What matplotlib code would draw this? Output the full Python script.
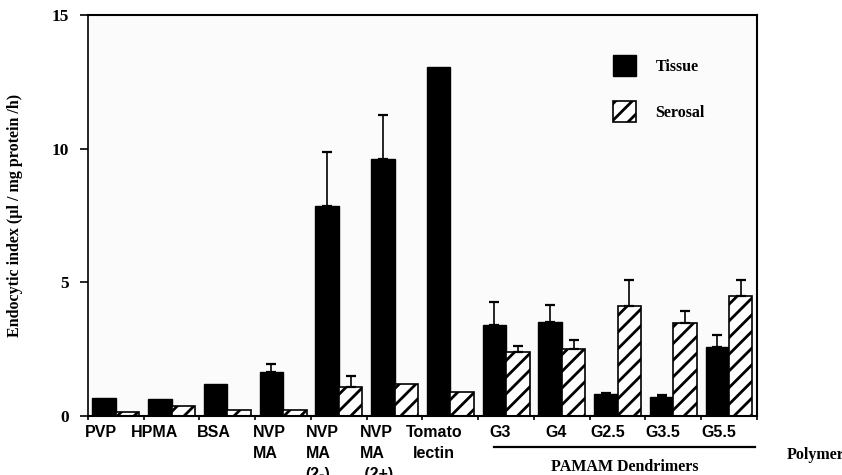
## Endocytic index of polymers, tissue vs serosal ##

import numpy as np
import matplotlib
matplotlib.use('Agg')
import matplotlib.pyplot as plt
from matplotlib.transforms import blended_transform_factory


# values
categories = ['PVP', 'HPMA', 'BSA', 'NVP\nMA', 'NVP\nMA\n(2-)', 'NVP\nMA\n (2+)',
              'Tomato\nlectin', 'G3', 'G4', 'G2.5', 'G3.5', 'G5.5']
tissue = [0.67, 0.62, 1.19, 1.65, 7.87, 9.64, 13.07, 3.42, 3.53, 0.82, 0.72, 2.57]
tissue_err = [0, 0, 0, 0.31, 2.01, 1.62, 0, 0.84, 0.62, 0.06, 0.05, 0.46]
serosal = [0.16, 0.39, 0.21, 0.21, 1.10, 1.19, 0.90, 2.41, 2.51, 4.13, 3.47, 4.48]
serosal_err = [0, 0, 0, 0, 0.41, 0, 0, 0.22, 0.34, 0.98, 0.47, 0.63]

# small shift of each tick label (in group widths), labels are not centred in the original
label_shift = [-0.27, -0.30, -0.25, -0.25, -0.30, -0.32, -0.29, -0.11, -0.10, -0.18, -0.18, -0.18]

serif = 'Liberation Serif'
sans = 'Liberation Sans'
plt.rcParams['hatch.linewidth'] = 2.0

n = len(categories)
x = np.arange(n) + 0.5
w = 0.42

fig = plt.figure(figsize=(8.42, 4.75), dpi=100)
ax = fig.add_axes([0.1045, 0.1242, 0.7945, 0.8432])
ax.set_facecolor('#fbfbfb')

ax.bar(x - w/2, tissue, w, color='black', edgecolor='black', linewidth=1, label='Tissue')
ax.bar(x + w/2, serosal, w, color='white', edgecolor='black', linewidth=1.2,
       hatch='//', label='Serosal')

# only upper error bars, only where there is one
ti = [i for i in range(n) if tissue_err[i] > 0]
si = [i for i in range(n) if serosal_err[i] > 0]
ax.errorbar(x[ti] - w/2, np.array(tissue)[ti], yerr=[np.zeros(len(ti)), np.array(tissue_err)[ti]],
            fmt='none', ecolor='black', elinewidth=1.2, capsize=3.3, capthick=1.6)
ax.errorbar(x[si] + w/2, np.array(serosal)[si], yerr=[np.zeros(len(si)), np.array(serosal_err)[si]],
            fmt='none', ecolor='black', elinewidth=1.2, capsize=3.3, capthick=1.6)

ax.set_xlim(0, n)
ax.set_ylim(0, 15)

ax.set_yticks([0, 5, 10, 15])
ax.set_yticklabels(['0', '5', '10', '15'], fontfamily=serif, fontweight='bold', fontsize=12.5)
ax.tick_params(axis='y', direction='out', length=6, width=1.2, pad=8)

ax.set_xticks(np.arange(n + 1))
ax.set_xticklabels([])
ax.tick_params(axis='x', which='major', direction='out', length=3, width=1.2)
ax.set_xticks(x + np.array(label_shift), minor=True)
ax.set_xticklabels(categories, minor=True, fontfamily=sans, fontweight='bold', fontsize=11.5,
                   linespacing=1.5, multialignment='left')
ax.tick_params(axis='x', which='minor', length=0, pad=6.5)
for lab in ax.get_xticklabels(minor=True):
    if lab.get_text().startswith('Tomato'):
        lab.set_multialignment('center')

ax.spines['left'].set_linewidth(1.2)
ax.spines['bottom'].set_linewidth(1.5)
ax.spines['top'].set_linewidth(1.5)
ax.spines['right'].set_linewidth(1.5)

ax.set_ylabel('Endocytic index (\u00b5l / mg protein /h)', fontfamily=serif,
              fontweight='bold', fontsize=11.5)
ax.yaxis.set_label_coords(-0.097, 0.5)

ax.legend(loc='upper left', bbox_to_anchor=(0.785, 0.901), frameon=False,
          borderpad=0, borderaxespad=0, handlelength=1.45, handleheight=1.6,
          handletextpad=1.2, labelspacing=1.6,
          prop={'family': serif, 'weight': 'bold', 'size': 11.5})

# bracket under the dendrimer group
trans = blended_transform_factory(ax.transData, ax.transAxes)
first = categories.index('G3')
ax.plot([first + 0.28, n - 0.04], [-0.077, -0.077], color='black', linewidth=1.6,
        transform=trans, clip_on=False)
ax.text((first + 0.28 + n - 0.04) / 2, -0.127, 'PAMAM Dendrimers', transform=trans,
        ha='center', va='center', fontfamily=serif, fontweight='bold', fontsize=11.5)
# cut by the right edge, as in the original
ax.text(1.045, -0.097, 'Polymer', transform=ax.transAxes, ha='left', va='center',
        fontfamily=serif, fontweight='bold', fontsize=11.5)

fig.savefig('out.png', dpi=100)
